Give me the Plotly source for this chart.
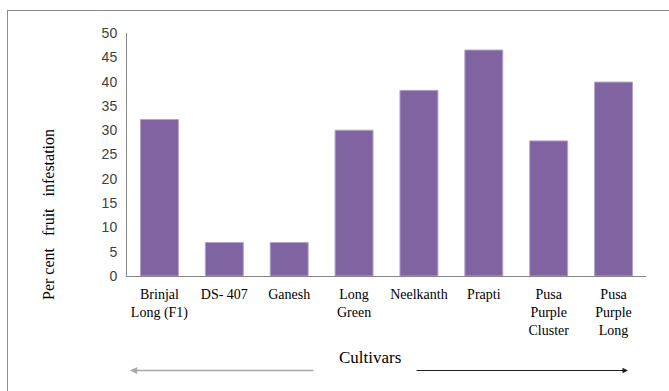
import plotly.graph_objects as go

# Cultivars and their per cent fruit infestation
cultivars = [
    "Brinjal<br>Long (F1)",
    "DS- 407",
    "Ganesh",
    "Long<br>Green",
    "Neelkanth",
    "Prapti",
    "Pusa<br>Purple<br>Cluster",
    "Pusa<br>Purple<br>Long",
]
infestation = [32.2, 6.9, 6.9, 30.0, 38.2, 46.5, 27.8, 39.9]
y_ticks = [0, 5, 10, 15, 20, 25, 30, 35, 40, 45, 50]

W, H = 669, 391
L, R, T, B = 127, 23, 33, 115
PW, PH = W - L - R, H - T - B


def px_x(px):
    return (px - L) / PW


def px_y(py):
    return (H - B - py) / PH


serif = "Liberation Serif, Times New Roman, serif"

fig = go.Figure(
    go.Bar(
        x=cultivars,
        y=infestation,
        marker=dict(color="#8064A2", line=dict(color="#b3a3c9", width=1)),
    )
)

fig.update_layout(
    width=W,
    height=H,
    margin=dict(l=L, r=R, t=T, b=B),
    paper_bgcolor="white",
    plot_bgcolor="white",
    bargap=0.415,
    showlegend=False,
    xaxis=dict(
        showline=True,
        linecolor="#868686",
        linewidth=1,
        showgrid=False,
        ticks="",
        tickangle=0,
        ticklabelstandoff=5,
        tickfont=dict(family=serif, size=14, color="black"),
    ),
    yaxis=dict(
        range=[0, 50],
        tickvals=y_ticks,
        showline=True,
        linecolor="#868686",
        linewidth=1,
        showgrid=False,
        zeroline=False,
        ticks="",
        ticklabelstandoff=6,
        tickfont=dict(family="Liberation Sans, Arial, sans-serif", size=14, color="#404040"),
    ),
)

# Outer frame (top and left edges)
frame = dict(color="#8c8c8c", width=1)
fig.add_shape(type="line", xref="paper", yref="paper",
              x0=px_x(7), x1=px_x(680), y0=px_y(10.5), y1=px_y(10.5), line=frame)
fig.add_shape(type="line", xref="paper", yref="paper",
              x0=px_x(7.5), x1=px_x(7.5), y0=px_y(10), y1=px_y(400), line=frame)

# Axis titles
fig.add_annotation(
    text="Per cent\u00a0\u00a0\u00a0fruit\u00a0\u00a0\u00a0infestation",
    xref="paper", yref="paper", x=px_x(49), y=px_y(215),
    xanchor="center", yanchor="middle",
    showarrow=False, textangle=-90,
    font=dict(family=serif, size=16, color="black"),
)
fig.add_annotation(
    text="Cultivars",
    xref="paper", yref="paper", x=px_x(370), y=px_y(357),
    xanchor="center", yanchor="middle",
    showarrow=False,
    font=dict(family=serif, size=17, color="black"),
)

# Direction arrows beside the x-axis title
fig.add_annotation(
    text="", xref="paper", yref="paper", x=px_x(130), y=px_y(370.5),
    ax=185, ay=0, axref="pixel", ayref="pixel",
    showarrow=True, arrowhead=2, arrowsize=0.9, arrowwidth=1.6, arrowcolor="#a8a8a8",
)
fig.add_annotation(
    text="", xref="paper", yref="paper", x=px_x(628), y=px_y(370.5),
    ax=-213, ay=0, axref="pixel", ayref="pixel",
    showarrow=True, arrowhead=2, arrowsize=1.1, arrowwidth=1, arrowcolor="#202020",
)

fig.write_html("out.html")
